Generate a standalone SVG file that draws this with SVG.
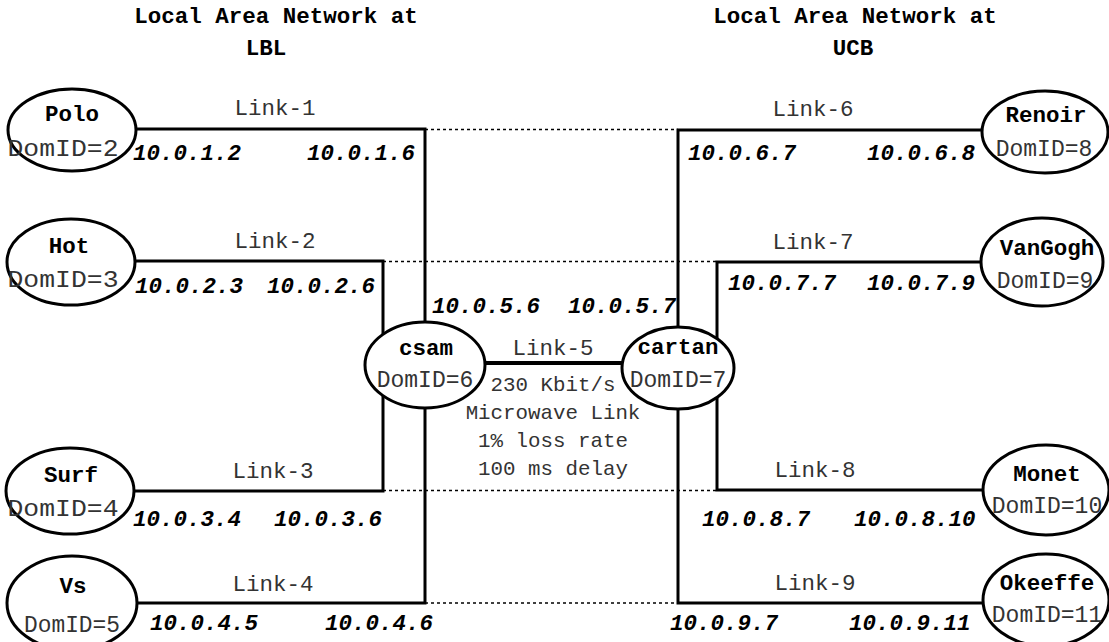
<svg xmlns="http://www.w3.org/2000/svg" width="1109" height="642" viewBox="0 0 1109 642">
<style>
.node{fill:#fff;stroke:#000;stroke-width:3}
.wire{fill:none;stroke:#000;stroke-width:3}
.dot{fill:none;stroke:#000;stroke-width:1.5;stroke-dasharray:3 3}
.name{font-family:"Liberation Mono",monospace;font-weight:bold;font-size:22.5px;text-anchor:middle;fill:#000}
.dom{font-family:"Liberation Mono",monospace;font-size:23px;text-anchor:middle;fill:#333}
.link{font-family:"Liberation Mono",monospace;font-size:22.5px;text-anchor:middle;fill:#333}
.ip{font-family:"Liberation Mono",monospace;font-weight:bold;font-style:italic;font-size:22.5px;fill:#000}
.info{font-family:"Liberation Mono",monospace;font-size:20.8px;text-anchor:middle;fill:#333}
.title{font-family:"Liberation Mono",monospace;font-weight:bold;font-size:22.5px;text-anchor:middle;fill:#000}
</style>
<rect width="1109" height="642" fill="#fff"/>
<g id="titles">
<text class="title" x="276" y="23">Local Area Network at</text>
<text class="title" x="266" y="55">LBL</text>
<text class="title" x="855" y="23">Local Area Network at</text>
<text class="title" x="853" y="55">UCB</text>
</g>
<g id="connectors">
<polyline class="wire" points="136,129 425,129 425,603 136,603"/>
<polyline class="wire" points="135,261 383,261 383,491 134,491"/>
<polyline class="wire" points="982,130 678,130 678,603 982,603"/>
<polyline class="wire" points="982,262 717,262 717,490 982,490"/>
<line class="wire" x1="486" y1="363" x2="622" y2="363" style="stroke-width:4"/>
<line class="dot" x1="425" y1="129.5" x2="678" y2="129.5"/>
<line class="dot" x1="383" y1="261.5" x2="717" y2="261.5"/>
<line class="dot" x1="383" y1="490.5" x2="717" y2="490.5"/>
<line class="dot" x1="425" y1="603" x2="678" y2="603"/>
<text class="link" x="275" y="115">Link-1</text>
<text class="link" x="275" y="248">Link-2</text>
<text class="link" x="273" y="478">Link-3</text>
<text class="link" x="273" y="591">Link-4</text>
<text class="link" x="553" y="355">Link-5</text>
<text class="link" x="813" y="116">Link-6</text>
<text class="link" x="813" y="249">Link-7</text>
<text class="link" x="815" y="477">Link-8</text>
<text class="link" x="815" y="590">Link-9</text>
<text class="info" x="553" y="391">230 Kbit/s</text>
<text class="info" x="553" y="419">Microwave Link</text>
<text class="info" x="553" y="447">1% loss rate</text>
<text class="info" x="553" y="475">100 ms delay</text>
<text class="ip" x="133" y="160">10.0.1.2</text>
<text class="ip" x="307" y="160">10.0.1.6</text>
<text class="ip" x="135" y="293">10.0.2.3</text>
<text class="ip" x="267" y="293">10.0.2.6</text>
<text class="ip" x="133" y="526">10.0.3.4</text>
<text class="ip" x="274" y="526">10.0.3.6</text>
<text class="ip" x="150" y="630">10.0.4.5</text>
<text class="ip" x="325" y="630">10.0.4.6</text>
<text class="ip" x="432" y="313">10.0.5.6</text>
<text class="ip" x="568" y="313">10.0.5.7</text>
<text class="ip" x="688" y="160">10.0.6.7</text>
<text class="ip" x="867" y="160">10.0.6.8</text>
<text class="ip" x="728" y="290">10.0.7.7</text>
<text class="ip" x="867" y="290">10.0.7.9</text>
<text class="ip" x="702" y="526">10.0.8.7</text>
<text class="ip" x="854" y="526">10.0.8.10</text>
<text class="ip" x="670" y="630">10.0.9.7</text>
<text class="ip" x="849" y="630">10.0.9.11</text>
</g>
<g id="polo"><ellipse class="node" cx="72" cy="130" rx="64" ry="41"/><text class="name" x="72" y="121">Polo</text><text class="dom" x="63" y="156" textLength="111" lengthAdjust="spacingAndGlyphs">DomID=2</text></g>
<g id="hot"><ellipse class="node" cx="71" cy="262" rx="64" ry="43"/><text class="name" x="69" y="253">Hot</text><text class="dom" x="63" y="287" textLength="111" lengthAdjust="spacingAndGlyphs">DomID=3</text></g>
<g id="surf"><ellipse class="node" cx="70" cy="491" rx="64" ry="43"/><text class="name" x="71" y="482">Surf</text><text class="dom" x="63" y="516" textLength="111" lengthAdjust="spacingAndGlyphs">DomID=4</text></g>
<g id="vs"><ellipse class="node" cx="72" cy="603" rx="65" ry="47"/><text class="name" x="73" y="593">Vs</text><text class="dom" x="72" y="632" textLength="96" lengthAdjust="spacingAndGlyphs">DomID=5</text></g>
<g id="csam"><ellipse class="node" cx="425" cy="365" rx="60" ry="43"/><text class="name" x="426" y="355">csam</text><text class="dom" x="425" y="387">DomID=6</text></g>
<g id="cartan"><ellipse class="node" cx="678" cy="368" rx="56" ry="41"/><text class="name" x="678" y="354">cartan</text><text class="dom" x="678" y="387">DomID=7</text></g>
<g id="renoir"><ellipse class="node" cx="1045" cy="132" rx="63" ry="41"/><text class="name" x="1046" y="122">Renoir</text><text class="dom" x="1044" y="156">DomID=8</text></g>
<g id="vangogh"><ellipse class="node" cx="1042" cy="262" rx="61" ry="44"/><text class="name" x="1047" y="255">VanGogh</text><text class="dom" x="1045" y="288">DomID=9</text></g>
<g id="monet"><ellipse class="node" cx="1046" cy="490" rx="63" ry="45"/><text class="name" x="1047" y="481">Monet</text><text class="dom" x="1047" y="513">DomID=10</text></g>
<g id="okeeffe"><ellipse class="node" cx="1046" cy="600" rx="63" ry="46"/><text class="name" x="1047" y="590">Okeeffe</text><text class="dom" x="1047" y="622">DomID=11</text></g>
</svg>
